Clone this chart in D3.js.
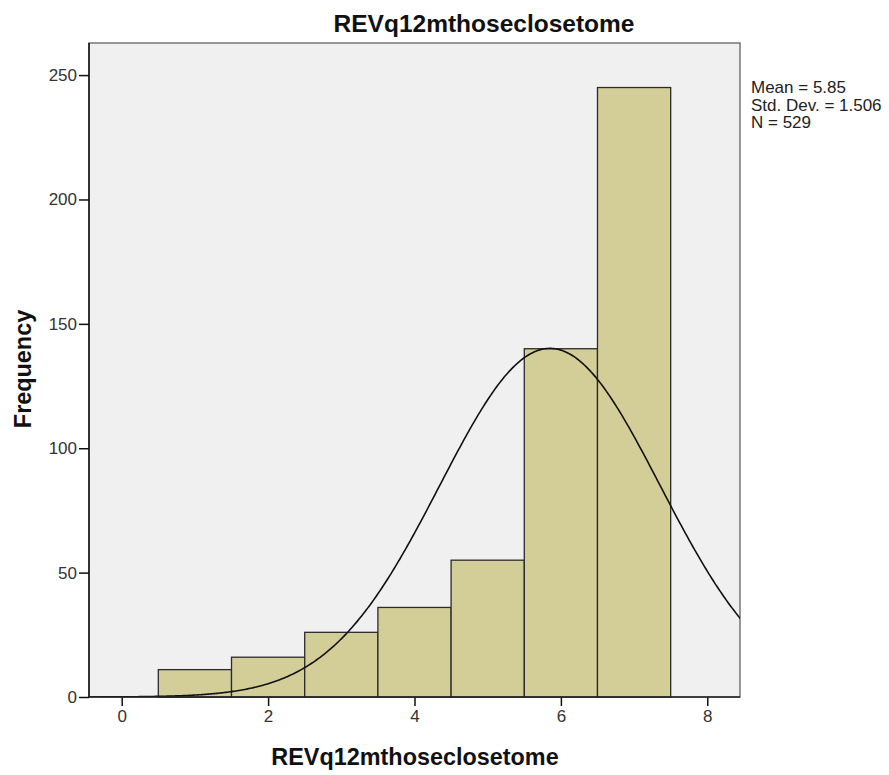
<!DOCTYPE html>
<html><head><meta charset="utf-8">
<script src="https://cdn.jsdelivr.net/npm/d3@7"></script>
<style>body{margin:0;background:#fff}</style>
</head><body>
<script>
const binCenters = [1, 2, 3, 4, 5, 6, 7];
const frequencies = [11, 16, 26, 36, 55, 140, 245];
const xTicks = [0, 2, 4, 6, 8];
const yTicks = [0, 50, 100, 150, 200, 250];
const statsLines = ["Mean = 5.85", "Std. Dev. = 1.506", "N = 529"];
const mean = 5.85, sd = 1.506, n = 529, binWidth = 1;

const W = 889, H = 775;
const L = 89, R = 740, T = 43, B = 697;
const FONT = "Arial, 'Liberation Sans', sans-serif";
const svg = d3.select("body").append("svg").attr("width", W).attr("height", H)
  .style("font-family", FONT);

const x = d3.scaleLinear().domain([-0.447, 8.447]).range([L, R]);
const y = d3.scaleLinear().domain([0, 262.9]).range([B, T]);

svg.append("rect").attr("x", L).attr("y", T).attr("width", R - L).attr("height", B - T)
  .attr("fill", "#f0f0f0").attr("stroke", "#777").attr("stroke-width", 1.5);

svg.append("defs").append("clipPath").attr("id", "clip")
  .append("rect").attr("x", L).attr("y", T).attr("width", R - L).attr("height", B - T);

svg.append("g").selectAll("rect").data(binCenters).join("rect")
  .attr("x", d => x(d - binWidth / 2))
  .attr("width", d => x(d + binWidth / 2) - x(d - binWidth / 2))
  .attr("y", (d, i) => y(frequencies[i]))
  .attr("height", (d, i) => y(0) - y(frequencies[i]))
  .attr("fill", "#d3ce97").attr("stroke", "#2b2b2b").attr("stroke-width", 1.3);

// normal curve
const pts = d3.range(-0.5, 8.6, 0.02);
const pdf = v => n * binWidth / (sd * Math.sqrt(2 * Math.PI)) * Math.exp(-0.5 * ((v - mean) / sd) ** 2);
svg.append("path").attr("clip-path", "url(#clip)")
  .attr("d", d3.line().x(d => x(d)).y(d => y(pdf(d)))(pts))
  .attr("fill", "none").attr("stroke", "#111").attr("stroke-width", 1.6);

// axes
const yAxis = svg.append("g").attr("transform", `translate(${L},0)`)
  .call(d3.axisLeft(y).tickValues(yTicks).tickSize(10).tickPadding(2));
const xAxis = svg.append("g").attr("transform", `translate(0,${B})`)
  .call(d3.axisBottom(x).tickValues(xTicks).tickSize(9).tickPadding(4));
[yAxis, xAxis].forEach(g => {
  g.select(".domain").remove();
  g.selectAll("line").attr("stroke", "#111").attr("stroke-width", 1.5);
  g.selectAll("text").attr("font-size", 17).attr("fill", "#333")
    .style("font-family", FONT);
});
svg.append("line").attr("x1", L).attr("x2", L).attr("y1", T).attr("y2", B).attr("stroke", "#111").attr("stroke-width", 1.5);
svg.append("line").attr("x1", L).attr("x2", R).attr("y1", B).attr("y2", B).attr("stroke", "#222").attr("stroke-width", 1.5);

// titles
svg.append("text").attr("x", 484).attr("y", 32).attr("text-anchor", "middle")
  .attr("font-size", 24.5).attr("font-weight", "bold").attr("fill", "#111").text("REVq12mthoseclosetome");
svg.append("text").attr("x", 415).attr("y", 765).attr("text-anchor", "middle")
  .attr("font-size", 23.4).attr("font-weight", "bold").attr("fill", "#111").text("REVq12mthoseclosetome");
svg.append("text").attr("transform", "translate(31,369) rotate(-90)").attr("text-anchor", "middle")
  .attr("font-size", 23.4).attr("font-weight", "bold").attr("fill", "#111").text("Frequency");

svg.append("g").selectAll("text").data(statsLines).join("text")
  .attr("x", 751).attr("y", (d, i) => 93 + i * 17.5)
  .attr("font-size", 17).attr("fill", "#222").text(d => d);
</script>
</body></html>
